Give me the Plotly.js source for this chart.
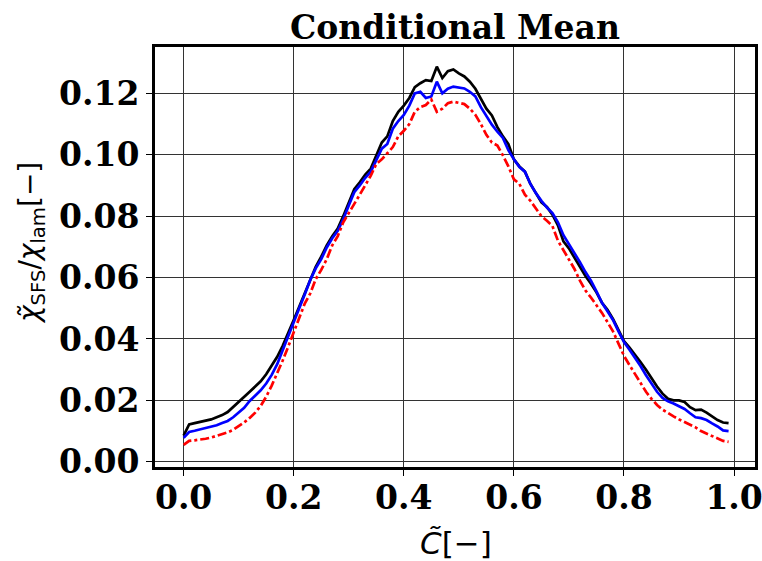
<!DOCTYPE html>
<html>
<head>
<meta charset="utf-8">
<script src="https://cdn.plot.ly/plotly-3.0.1.min.js"></script>
<style>html,body{margin:0;padding:0;background:#fff;}#chart{width:762px;height:561px;}</style>
</head>
<body>
<div id="chart"></div>
<script>
const cBins = [0.00,0.01,0.02,0.03,0.04,0.05,0.06,0.07,0.08,0.09,
0.10,0.11,0.12,0.13,0.14,0.15,0.16,0.17,0.18,0.19,
0.20,0.21,0.22,0.23,0.24,0.25,0.26,0.27,0.28,0.29,
0.30,0.31,0.32,0.33,0.34,0.35,0.36,0.37,0.38,0.39,
0.40,0.41,0.42,0.43,0.44,0.45,0.46,0.47,0.48,0.49,
0.50,0.51,0.52,0.53,0.54,0.55,0.56,0.57,0.58,0.59,
0.60,0.61,0.62,0.63,0.64,0.65,0.66,0.67,0.68,0.69,
0.70,0.71,0.72,0.73,0.74,0.75,0.76,0.77,0.78,0.79,
0.80,0.81,0.82,0.83,0.84,0.85,0.86,0.87,0.88,0.89,
0.90,0.91,0.92,0.93,0.94,0.95,0.96,0.97,0.98,0.99];

const blackSeries = [0.0085,0.0122,0.0126,0.0130,0.0133,0.0138,0.0145,0.0152,0.0162,0.0178,
0.0193,0.0210,0.0228,0.0245,0.0262,0.0285,0.0312,0.0342,0.0378,0.0418,
0.0462,0.0505,0.0548,0.0595,0.0635,0.0668,0.0705,0.0735,0.0760,0.0800,
0.0845,0.0888,0.0910,0.0935,0.0955,0.1000,0.1040,0.1060,0.1110,0.1140,
0.1160,0.1185,0.1220,0.1233,0.1243,0.1240,0.1287,0.1250,0.1272,0.1278,
0.1265,0.1255,0.1238,0.1215,0.1180,0.1150,0.1128,0.1090,0.1060,0.1035,
0.0985,0.0962,0.0945,0.0905,0.0875,0.0845,0.0830,0.0805,0.0770,0.0718,
0.0695,0.0665,0.0635,0.0605,0.0580,0.0552,0.0518,0.0495,0.0465,0.0428,
0.0393,0.0372,0.0350,0.0325,0.0300,0.0272,0.0245,0.0222,0.0205,0.0200,
0.0200,0.0195,0.0178,0.0168,0.0170,0.0160,0.0148,0.0136,0.0128,0.0126];

const blueSeries = [0.0078,0.0097,0.0101,0.0105,0.0109,0.0113,0.0119,0.0126,0.0133,0.0145,
0.0160,0.0176,0.0198,0.0215,0.0233,0.0255,0.0283,0.0318,0.0362,0.0408,
0.0455,0.0500,0.0545,0.0592,0.0630,0.0660,0.0698,0.0728,0.0752,0.0790,
0.0835,0.0878,0.0900,0.0925,0.0945,0.0980,0.1020,0.1035,0.1085,0.1110,
0.1130,0.1160,0.1200,0.1205,0.1185,0.1190,0.1238,0.1200,0.1215,0.1222,
0.1220,0.1216,0.1205,0.1190,0.1155,0.1125,0.1098,0.1075,0.1055,0.1015,
0.0985,0.0960,0.0945,0.0905,0.0875,0.0850,0.0828,0.0810,0.0780,0.0738,
0.0710,0.0680,0.0650,0.0618,0.0590,0.0555,0.0518,0.0490,0.0462,0.0425,
0.0390,0.0365,0.0340,0.0312,0.0282,0.0255,0.0228,0.0208,0.0197,0.0190,
0.0182,0.0172,0.0158,0.0145,0.0142,0.0136,0.0125,0.0115,0.0102,0.0100];

const redSeries = [0.0055,0.0068,0.0070,0.0072,0.0075,0.0079,0.0084,0.0090,0.0096,0.0104,
0.0115,0.0128,0.0143,0.0160,0.0182,0.0212,0.0248,0.0288,0.0330,0.0375,
0.0420,0.0465,0.0515,0.0548,0.0595,0.0625,0.0660,0.0705,0.0735,0.0780,
0.0808,0.0840,0.0870,0.0900,0.0932,0.0970,0.0985,0.1005,0.1025,0.1060,
0.1078,0.1100,0.1140,0.1155,0.1162,0.1180,0.1140,0.1150,0.1168,0.1173,
0.1170,0.1165,0.1150,0.1130,0.1100,0.1065,0.1040,0.1030,0.0998,0.0962,
0.0920,0.0905,0.0870,0.0850,0.0825,0.0800,0.0785,0.0768,0.0720,0.0690,
0.0660,0.0628,0.0590,0.0558,0.0535,0.0510,0.0485,0.0455,0.0425,0.0385,
0.0345,0.0315,0.0285,0.0255,0.0228,0.0205,0.0185,0.0170,0.0158,0.0148,
0.0138,0.0130,0.0122,0.0112,0.0100,0.0092,0.0083,0.0075,0.0068,0.0065];

const xTickVals = [0.0,0.2,0.4,0.6,0.8,1.0];
const yTickVals = [0.00,0.02,0.04,0.06,0.08,0.10,0.12];

const traces = [
  {x:cBins, y:blackSeries, type:'scatter', mode:'lines', line:{color:'black', width:2.7}, showlegend:false},
  {x:cBins, y:blueSeries, type:'scatter', mode:'lines', line:{color:'blue', width:2.7}, showlegend:false},
  {x:cBins, y:redSeries, type:'scatter', mode:'lines', line:{color:'red', width:2.7, dash:'dashdot'}, showlegend:false}
];

const tickFont = {family:'DejaVu Serif', size:33, weight:'bold', color:'black'};

const layout = {
  width:762, height:561,
  margin:{l:155, r:7, t:47, b:94},
  paper_bgcolor:'white', plot_bgcolor:'white',
  title:{text:'Conditional Mean', font:{family:'DejaVu Serif', size:33, weight:'bold', color:'black'},
         x:0.5, xref:'paper', xanchor:'center', y:1, yref:'paper', yanchor:'bottom', pad:{b:8}},
  xaxis:{range:[-0.052,1.038], tickvals:xTickVals, tickformat:'.1f', tickfont:tickFont,
         ticks:'outside', ticklen:6, tickwidth:1, tickcolor:'black',
         ticklabeloverflow:'allow', ticklabelstandoff:-7,
         showgrid:true, gridcolor:'#333', gridwidth:1, zeroline:false,
         showline:true, mirror:true, linecolor:'black', linewidth:3,
         title:{text:''}},
  yaxis:{range:[-0.0017,0.1351], tickvals:yTickVals, tickformat:'.2f', tickfont:tickFont,
         ticks:'outside', ticklen:6, tickwidth:1, tickcolor:'black',
         ticklabeloverflow:'allow',
         showgrid:true, gridcolor:'#333', gridwidth:1, zeroline:false,
         showline:true, mirror:true, linecolor:'black', linewidth:3,
         title:{text:''}},
  annotations:[
    {text:'<i>C̃</i>[−]', xref:'paper', yref:'paper', x:(456-155)/600, y:(467-543)/420,
     xanchor:'center', yanchor:'middle', showarrow:false,
     font:{family:'DejaVu Sans', size:31, color:'black'}},
    {text:'<i>χ̃</i><sub>SFS</sub>/<i>χ</i><sub>lam</sub>[−]', xref:'paper', yref:'paper',
     x:(31-155)/600, y:(467-243)/420, xanchor:'center', yanchor:'middle', textangle:-90, showarrow:false,
     font:{family:'DejaVu Sans', size:28, color:'black'}}
  ]
};

Plotly.newPlot('chart', traces, layout, {displayModeBar:false, staticPlot:true});
</script>
</body>
</html>
